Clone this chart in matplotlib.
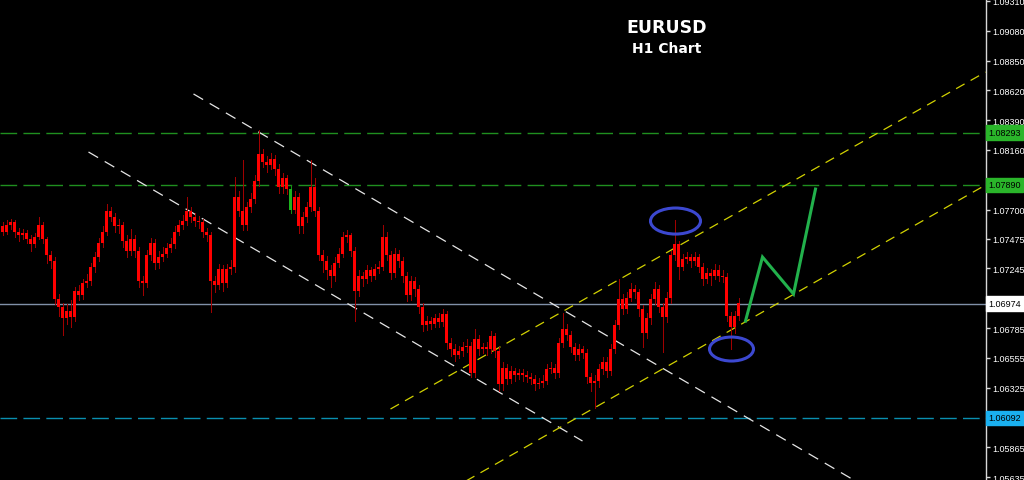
import matplotlib
matplotlib.use('Agg')
import matplotlib.pyplot as plt
from matplotlib.patches import Ellipse
import numpy as np

plt.rcParams['lines.scale_dashes'] = False
plt.rcParams['font.family'] = ['Liberation Sans', 'DejaVu Sans']

# ---------------- data (EURUSD H1 candles) ----------------
first_open = 1.0757
closes = [
    1.0753, 1.0758, 1.0760, 1.0753, 1.0750, 1.0752, 1.0747, 1.0743, 1.0749, 1.0758,
    1.0747, 1.0735, 1.0730, 1.0701, 1.0695, 1.0686, 1.0692, 1.0687, 1.0707, 1.0704,
    1.0713, 1.0715, 1.0726, 1.0733, 1.0744, 1.0753, 1.0769, 1.0764, 1.0757, 1.0758,
    1.0746, 1.0738, 1.0747, 1.0738, 1.0715, 1.0713, 1.0735, 1.0744, 1.0729, 1.0733,
    1.0736, 1.0740, 1.0743, 1.0753, 1.0758, 1.0761, 1.0769, 1.0764, 1.0761, 1.0760,
    1.0753, 1.0750, 1.0715, 1.0712, 1.0724, 1.0713, 1.0724, 1.0726, 1.0780, 1.0769,
    1.0758, 1.0772, 1.0778, 1.0792, 1.0813, 1.0807, 1.0804, 1.0809, 1.0801, 1.0787,
    1.0794, 1.0786, 1.0770, 1.0780, 1.0757, 1.0764, 1.0772, 1.0787, 1.0769, 1.0735,
    1.0730, 1.0723, 1.0719, 1.0729, 1.0736, 1.0749, 1.0750, 1.0738, 1.0707, 1.0719,
    1.0716, 1.0723, 1.0719, 1.0724, 1.0726, 1.0749, 1.0735, 1.0721, 1.0736, 1.0730,
    1.0719, 1.0704, 1.0715, 1.0709, 1.0695, 1.0681, 1.0684, 1.0682, 1.0686, 1.0683,
    1.0689, 1.0667, 1.0662, 1.0658, 1.0661, 1.0664, 1.0665, 1.0644, 1.0670, 1.0662,
    1.0664, 1.0662, 1.0672, 1.0661, 1.0635, 1.0648, 1.0639, 1.0645, 1.0642, 1.0644,
    1.0642, 1.0641, 1.0639, 1.0635, 1.0636, 1.0638, 1.0647, 1.0648, 1.0644, 1.0667,
    1.0678, 1.0673, 1.0664, 1.0658, 1.0662, 1.0659, 1.0641, 1.0636, 1.0638, 1.0647,
    1.0652, 1.0645, 1.0662, 1.0681, 1.0701, 1.0693, 1.0702, 1.0709, 1.0706, 1.0693,
    1.0675, 1.0686, 1.0701, 1.0709, 1.0695, 1.0687, 1.0702, 1.0735, 1.0743, 1.0726,
    1.0732, 1.0733, 1.0730, 1.0733, 1.0726, 1.0716, 1.0721, 1.0719, 1.0723, 1.0719,
    1.0718, 1.0688, 1.0679, 1.0688, 1.0698,
]
highs = [
    1.0760, 1.0762, 1.0763, 1.0762, 1.0756, 1.0755, 1.0754, 1.0750, 1.0752, 1.0764,
    1.0760, 1.0749, 1.0738, 1.0733, 1.0705, 1.0698, 1.0697, 1.0700, 1.0710, 1.0712,
    1.0716, 1.0720, 1.0729, 1.0737, 1.0748, 1.0757, 1.0774, 1.0772, 1.0767, 1.0763,
    1.0760, 1.0750, 1.0755, 1.0750, 1.0741, 1.0719, 1.0739, 1.0748, 1.0747, 1.0738,
    1.0741, 1.0744, 1.0748, 1.0757, 1.0762, 1.0766, 1.0780, 1.0772, 1.0767, 1.0765,
    1.0763, 1.0756, 1.0753, 1.0719, 1.0728, 1.0727, 1.0728, 1.0731, 1.0795, 1.0784,
    1.0808, 1.0776, 1.0783, 1.0797, 1.0831, 1.0817, 1.0811, 1.0814, 1.0812, 1.0805,
    1.0798, 1.0797, 1.0789, 1.0784, 1.0783, 1.0768, 1.0776, 1.0808, 1.0794, 1.0772,
    1.0739, 1.0734, 1.0727, 1.0733, 1.0740, 1.0753, 1.0754, 1.0752, 1.0741, 1.0723,
    1.0722, 1.0727, 1.0726, 1.0728, 1.0730, 1.0758, 1.0753, 1.0738, 1.0740, 1.0739,
    1.0733, 1.0722, 1.0719, 1.0718, 1.0712, 1.0698, 1.0688, 1.0687, 1.0689, 1.0690,
    1.0693, 1.0692, 1.0671, 1.0666, 1.0665, 1.0668, 1.0670, 1.0668, 1.0678, 1.0673,
    1.0667, 1.0668, 1.0676, 1.0675, 1.0664, 1.0652, 1.0651, 1.0649, 1.0648, 1.0647,
    1.0647, 1.0645, 1.0644, 1.0642, 1.0640, 1.0642, 1.0651, 1.0652, 1.0651, 1.0671,
    1.0690, 1.0682, 1.0676, 1.0667, 1.0666, 1.0665, 1.0662, 1.0644, 1.0642, 1.0651,
    1.0656, 1.0656, 1.0666, 1.0685, 1.0716, 1.0705, 1.0706, 1.0713, 1.0712, 1.0709,
    1.0696, 1.0690, 1.0705, 1.0714, 1.0712, 1.0698, 1.0706, 1.0738, 1.0762, 1.0746,
    1.0736, 1.0737, 1.0736, 1.0737, 1.0736, 1.0729, 1.0725, 1.0724, 1.0728, 1.0727,
    1.0723, 1.0721, 1.0691, 1.0692, 1.0702,
]
lows = [
    1.0750, 1.0751, 1.0755, 1.0749, 1.0746, 1.0747, 1.0744, 1.0738, 1.0741, 1.0747,
    1.0744, 1.0729, 1.0725, 1.0697, 1.0688, 1.0673, 1.0682, 1.0679, 1.0684, 1.0700,
    1.0701, 1.0710, 1.0712, 1.0722, 1.0730, 1.0741, 1.0750, 1.0761, 1.0753, 1.0752,
    1.0741, 1.0733, 1.0735, 1.0733, 1.0710, 1.0704, 1.0710, 1.0731, 1.0724, 1.0725,
    1.0730, 1.0733, 1.0737, 1.0740, 1.0750, 1.0755, 1.0758, 1.0760, 1.0757, 1.0756,
    1.0749, 1.0746, 1.0691, 1.0706, 1.0709, 1.0707, 1.0710, 1.0720, 1.0722, 1.0765,
    1.0754, 1.0754, 1.0768, 1.0775, 1.0788, 1.0803, 1.0799, 1.0801, 1.0797, 1.0783,
    1.0783, 1.0782, 1.0767, 1.0767, 1.0752, 1.0752, 1.0760, 1.0769, 1.0765, 1.0731,
    1.0722, 1.0716, 1.0710, 1.0715, 1.0726, 1.0733, 1.0745, 1.0734, 1.0684, 1.0703,
    1.0711, 1.0713, 1.0715, 1.0716, 1.0721, 1.0723, 1.0731, 1.0716, 1.0718, 1.0726,
    1.0714, 1.0699, 1.0700, 1.0703, 1.0690, 1.0676, 1.0677, 1.0678, 1.0679, 1.0679,
    1.0680, 1.0662, 1.0657, 1.0653, 1.0655, 1.0657, 1.0660, 1.0641, 1.0641, 1.0658,
    1.0659, 1.0658, 1.0659, 1.0656, 1.0630, 1.0631, 1.0635, 1.0636, 1.0638, 1.0639,
    1.0638, 1.0637, 1.0635, 1.0631, 1.0632, 1.0633, 1.0635, 1.0644, 1.0640, 1.0641,
    1.0664, 1.0669, 1.0660, 1.0654, 1.0654, 1.0655, 1.0636, 1.0630, 1.0617, 1.0633,
    1.0643, 1.0641, 1.0642, 1.0659, 1.0678, 1.0689, 1.0690, 1.0699, 1.0702, 1.0688,
    1.0664, 1.0671, 1.0682, 1.0697, 1.0691, 1.0660, 1.0683, 1.0698, 1.0731, 1.0716,
    1.0723, 1.0729, 1.0726, 1.0727, 1.0722, 1.0712, 1.0713, 1.0712, 1.0716, 1.0715,
    1.0714, 1.0684, 1.0662, 1.0675, 1.0685,
]
green_bars = [72]

# price scale
price_ticks = [1.09310, 1.09080, 1.08850, 1.08620, 1.08390, 1.08160, 1.07930, 1.07700,
               1.07475, 1.07245, 1.07015, 1.06785, 1.06555, 1.06325, 1.06095, 1.05865, 1.05635]
hidden_tick_labels = [1.06095]
y_range = [1.05612, 1.09325]
x_range = [-0.625, 245.875]

# horizontal levels
level_prices = [1.08293, 1.07890, 1.06974, 1.06092]
level_line_colors = ['#1f8f1f', '#1f8f1f', '#8090a8', '#0a8fb0']
level_box_colors = ['#2ab52a', '#2ab52a', '#ffffff', '#1ab0f0']
level_styles = ['dashed', 'dashed', 'solid', 'dashed']

# trend channels (bar index, price)
white_upper = ([47.75, 213.25], [1.08592, 1.05604])
white_lower = ([21.5, 145.0], [1.08144, 1.05913])
yellow_upper = ([97.0, 245.75], [1.06160, 1.08761])
yellow_lower = ([115.0, 245.75], [1.05589, 1.07889])

# projected path
proj_x = [185.75, 190.0, 197.75, 203.25]
proj_y = [1.06839, 1.07333, 1.07048, 1.07858]

# highlighted swing points (center bar, center price, width bars, height price)
marks = [(168.25, 1.07611, 12.5, 0.00201), (182.25, 1.06623, 11.0, 0.00185)]

# ---------------- figure ----------------
fig = plt.figure(figsize=(10.24, 4.81), dpi=100, facecolor='black')
ax = fig.add_axes([0, 0, 986 / 1024, 1])
ax.set_facecolor('black')
ax.set_xlim(*x_range)
ax.set_ylim(*y_range)

# levels
for p, lc, st in zip(level_prices, level_line_colors, level_styles):
    ls = '-' if st == 'solid' else (0, (12, 4.5))
    ax.axhline(p, color=lc, lw=1.0, ls=ls, zorder=1)

# channels
for (xs, ys), col, dash in [(white_upper, '#e6e6e6', (8, 5.5)), (white_lower, '#e6e6e6', (8, 5.5)),
                            (yellow_upper, '#d2d200', (7, 5)), (yellow_lower, '#d2d200', (7, 5))]:
    ax.plot(xs, ys, color=col, lw=0.9, ls=(0, dash), zorder=2)

# candles
opens = np.array([first_open] + closes[:-1])
c = np.array(closes)
x = np.arange(len(closes))
bottom = np.minimum(opens, c)
height = np.maximum(np.abs(c - opens), 0.00004)
body_colors = ['#1db31d' if i in green_bars else '#ff0000' for i in x]
wick_colors = ['#138f13' if i in green_bars else '#a00000' for i in x]
ax.vlines(x, lows, highs, colors=wick_colors, lw=0.72, zorder=3, antialiased=False)
ax.bar(x, height, bottom=bottom, width=0.75, color=body_colors, linewidth=0, zorder=4,
       antialiased=False)

# projection
ax.plot(proj_x, proj_y, color='#22b14c', lw=2.2, zorder=5, solid_joinstyle='miter')

# ellipses
for cx, cy, w, h in marks:
    ax.add_patch(Ellipse((cx, cy), w, h, fill=False, ec='#3c48d0', lw=2.2, zorder=6))

# axes styling
for s in ['left', 'top', 'bottom']:
    ax.spines[s].set_visible(False)
ax.spines['right'].set_color('#d8d8d8')
ax.spines['right'].set_linewidth(1.0)
ax.set_xticks([])
ax.yaxis.tick_right()
ax.set_yticks(price_ticks)
ax.set_yticklabels(['' if t in hidden_tick_labels else f'{t:.5f}' for t in price_ticks])
ax.tick_params(axis='y', colors='#d8d8d8', labelcolor='white', length=3, width=1,
               labelsize=6.5, pad=1.5, direction='out')

# level labels
for p, bg in zip(level_prices, level_box_colors):
    ax.annotate(f'{p:.5f}', xy=(1.0, p), xycoords=('axes fraction', 'data'),
                xytext=(1.6, 0), textcoords='offset points', ha='left', va='center',
                fontsize=6.5, color='black', annotation_clip=False, zorder=10,
                bbox=dict(boxstyle='square,pad=0.3', fc=bg, ec=bg))

# titles
fig.text(667 / 1024, 1 - 28 / 481, 'EURUSD', ha='center', va='center', color='white',
         fontsize=12.5, fontweight='bold', family='DejaVu Sans')
fig.text(667 / 1024, 1 - 49 / 481, 'H1 Chart', ha='center', va='center', color='white',
         fontsize=10, fontweight='bold', family='DejaVu Sans')

fig.savefig('out.png', dpi=100, facecolor='black')
